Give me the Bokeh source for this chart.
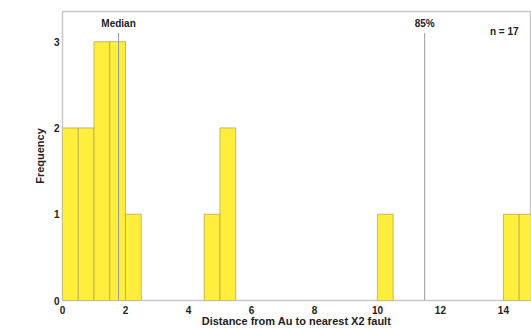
from bokeh.plotting import figure
from bokeh.models import Range1d, FixedTicker, ColumnDataSource
from bokeh.embed import file_html
from bokeh.resources import INLINE
from bokeh.core.properties import value

bin_left = [0.0, 0.5, 1.0, 1.5, 2.0, 4.5, 5.0, 10.0, 14.0, 14.5]
bin_width = 0.5
counts = [2, 2, 3, 3, 1, 1, 2, 1, 1, 1]
x_ticks = [0, 2, 4, 6, 8, 10, 12, 14]
y_ticks = [0, 1, 2, 3]
ref_names = ["Median", "85%"]
ref_values = [1.78, 11.5]
n_label = "n = 17"

FONT = "Liberation Sans"

p = figure(width=531, height=329, output_backend="svg", toolbar_location=None,
           x_range=Range1d(0, 14.86), y_range=Range1d(0, 3.35),
           min_border_left=62, min_border_right=1, min_border_top=11, min_border_bottom=28)
p.grid.visible = False
p.background_fill_color = "white"
p.outline_line_color = "#c8c8c8"
p.outline_line_width = 1.5

src = ColumnDataSource(dict(left=bin_left, right=[b + bin_width for b in bin_left], top=counts))
p.quad(left="left", right="right", bottom=0, top="top", source=src,
       fill_color="#ffee3c", line_color="#b8a848", line_width=0.8)

p.segment(x0=ref_values, x1=ref_values, y0=[0, 0], y1=[3.1, 3.1], line_color="#999999", line_width=1)
p.text(x=ref_values, y=[3.15, 3.15], text=ref_names, text_align="center", text_baseline="bottom",
       text_font=value(FONT), text_font_style="bold", text_font_size="10px", text_color="#222222")
p.text(x=[14.48], y=[3.05], text=[n_label], text_align="right", text_baseline="bottom",
       text_font=value(FONT), text_font_style="bold", text_font_size="10px", text_color="#222222")

for ax in (p.xaxis, p.yaxis):
    ax.axis_line_color = None
    ax.major_tick_line_color = None
    ax.minor_tick_line_color = None
    ax.major_tick_out = 0
    ax.major_tick_in = 0
    ax.minor_tick_out = 0
    ax.minor_tick_in = 0
    ax.major_label_text_font = FONT
    ax.major_label_text_font_style = "bold"
    ax.major_label_text_font_size = "10px"
    ax.major_label_text_color = "#222222"
    ax.axis_label_text_font = FONT
    ax.axis_label_text_font_style = "bold"
    ax.axis_label_text_font_size = "11px"
    ax.axis_label_text_color = "#222222"

p.xaxis.ticker = FixedTicker(ticks=x_ticks)
p.yaxis.ticker = FixedTicker(ticks=y_ticks)
p.xaxis.major_label_standoff = 5
p.yaxis.major_label_standoff = 3
p.xaxis.axis_label = "Distance from Au to nearest X2 fault"
p.yaxis.axis_label = "Frequency"
p.xaxis.axis_label_standoff = -2
p.yaxis.axis_label_standoff = 5

open("out.html", "w").write(file_html(p, INLINE))
